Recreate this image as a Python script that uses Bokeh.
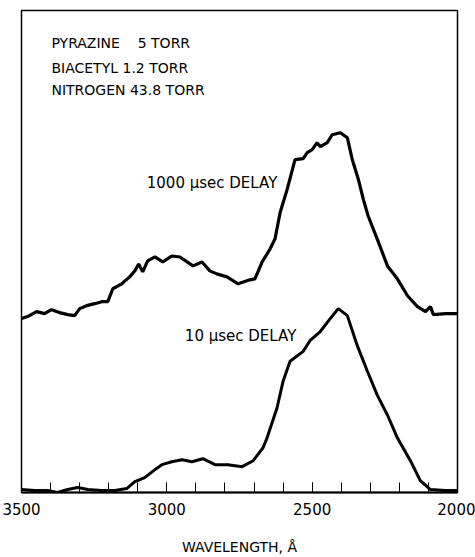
from bokeh.plotting import figure
from bokeh.models import Range1d, FixedTicker
from bokeh.core.properties import value
from bokeh.embed import file_html
from bokeh.resources import INLINE

# 1000 usec delay trace (wavelength in Angstrom, relative intensity)
wl_1000 = [3500, 3479, 3448, 3421, 3397, 3369, 3341, 3317, 3300, 3276, 3248, 3224, 3203,
           3186, 3155, 3128, 3110, 3097, 3083, 3066, 3041, 3014, 2983, 2955, 2910, 2879,
           2852, 2828, 2793, 2755, 2714, 2697, 2672, 2645, 2628, 2610, 2586, 2559, 2531,
           2517, 2500, 2483, 2472, 2448, 2431, 2403, 2379, 2362, 2341, 2324, 2307, 2276,
           2241, 2207, 2172, 2138, 2110, 2093, 2083, 2041, 2000]
int_1000 = [175, 177, 182, 180, 184, 181, 179, 178, 185, 188, 190, 192, 192,
            205, 210, 217, 223, 230, 222, 233, 237, 232, 238, 237, 228, 232,
            223, 220, 217, 210, 214, 215, 232, 245, 255, 282, 305, 335, 336,
            342, 345, 352, 348, 352, 360, 362, 357, 335, 315, 295, 278, 255,
            228, 215, 198, 187, 182, 187, 179, 180, 180]

# 10 usec delay trace
wl_10 = [3500, 3455, 3410, 3376, 3341, 3307, 3272, 3224, 3179, 3138, 3110, 3076, 3041,
         3017, 2983, 2948, 2914, 2876, 2834, 2790, 2741, 2703, 2669, 2655, 2621, 2600,
         2576, 2531, 2507, 2472, 2438, 2410, 2379, 2345, 2310, 2276, 2241, 2207, 2162,
         2128, 2093, 2041, 2000]
int_10 = [3, 2, 2, 0, 3, 5, 3, 2, 2, 4, 11, 15, 23,
          28, 31, 33, 31, 34, 28, 28, 26, 32, 45, 55, 85, 112,
          132, 142, 153, 162, 175, 185, 178, 148, 122, 98, 78, 55, 32,
          12, 3, 2, 2]

major_ticks = [3500, 3000, 2500, 2000]
minor_ticks = list(range(2000, 3501, 100))

info_lines = ["PYRAZINE\u00a0\u00a0\u00a0\u00a05 TORR", "BIACETYL 1.2 TORR", "NITROGEN 43.8 TORR"]
info_y = [452, 427, 405]
info_x = [3397, 3397, 3397]

trace_labels = ["1000 \u03bcsec DELAY", "10 \u03bcsec DELAY"]
trace_label_x = [3069, 2938]
trace_label_y = [311, 157]

p = figure(width=475, height=557, output_backend="svg", toolbar_location=None,
           x_range=Range1d(3500, 2000), y_range=Range1d(0, 485),
           min_border_left=21, min_border_right=18, min_border_top=10, min_border_bottom=62)

p.background_fill_color = "white"
p.border_fill_color = "white"
p.outline_line_color = "black"
p.outline_line_width = 1.5
p.xgrid.visible = False
p.ygrid.visible = False
p.yaxis.visible = False

ax = p.xaxis[0]
ax.ticker = FixedTicker(ticks=major_ticks, minor_ticks=minor_ticks)
ax.major_tick_in = 10
ax.major_tick_out = 0
ax.minor_tick_in = 10
ax.minor_tick_out = 0
ax.major_tick_line_color = "black"
ax.minor_tick_line_color = "black"
ax.axis_line_color = "black"
ax.axis_line_width = 2
ax.major_label_standoff = 10
ax.major_label_text_font = "DejaVu Sans"
ax.major_label_text_font_size = "15px"
ax.major_label_text_color = "black"
ax.axis_label = "WAVELENGTH, \u00c5"
ax.axis_label_text_font = "DejaVu Sans"
ax.axis_label_text_font_size = "14px"
ax.axis_label_text_font_style = "normal"
ax.axis_label_text_color = "black"
ax.axis_label_standoff = 21

p.line(wl_1000, int_1000, line_color="black", line_width=3.2)
p.line(wl_10, int_10, line_color="black", line_width=3)

p.text(x=info_x, y=info_y, text=info_lines, text_font=value("DejaVu Sans"),
       text_font_size="14px", text_align="left", text_baseline="middle", text_color="black")
p.text(x=trace_label_x, y=trace_label_y, text=trace_labels, text_font=value("DejaVu Sans"),
       text_font_size="15px", text_align="left", text_baseline="middle", text_color="black")

open("out.html", "w").write(file_html(p, INLINE))
